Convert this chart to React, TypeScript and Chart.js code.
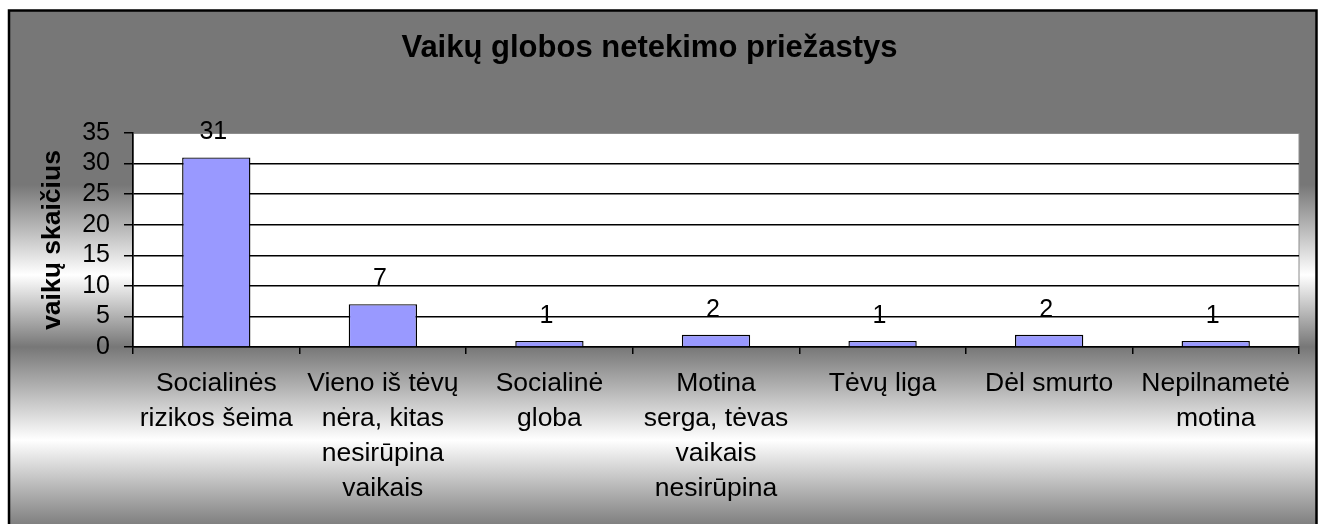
import React, { useEffect, useRef } from "react";
import { Chart, registerables } from "chart.js";

Chart.register(...registerables);

const chartTitle = "Vaikų globos netekimo priežastys";
const yAxisTitle = "vaikų skaičius";
const categories: string[][] = [
  ["Socialinės", "rizikos šeima"],
  ["Vieno iš tėvų", "nėra, kitas", "nesirūpina", "vaikais"],
  ["Socialinė", "globa"],
  ["Motina", "serga, tėvas", "vaikais", "nesirūpina"],
  ["Tėvų liga"],
  ["Dėl smurto"],
  ["Nepilnametė", "motina"],
];
const values: number[] = [31, 7, 1, 2, 1, 2, 1];
const yMin = 0;
const yMax = 35;
const yStep = 5;

const FONT = '"Liberation Sans", Arial, sans-serif';

const backgroundPlugin = {
  id: "bgPlugin",
  beforeDraw(chart: any) {
    const { ctx, width, height, chartArea } = chart;
    ctx.save();
    ctx.fillStyle = "#ffffff";
    ctx.fillRect(0, 0, width, height);
    const g = ctx.createLinearGradient(0, 10, 0, 524);
    const stop = (y: number, c: string) => g.addColorStop((y - 10) / 514, c);
    stop(10, "#777777");
    stop(185, "#777777");
    stop(275, "#ffffff");
    stop(347, "#777777");
    stop(440, "#ffffff");
    stop(524, "#808080");
    ctx.fillStyle = g;
    ctx.fillRect(9, 10, 1308, height);
    ctx.lineWidth = 2.5;
    ctx.strokeStyle = "#000";
    ctx.strokeRect(9, 10.5, 1307.5, height + 40);
    ctx.fillStyle = "#ffffff";
    ctx.fillRect(chartArea.left, chartArea.top, chartArea.right - chartArea.left, chartArea.bottom - chartArea.top);
    ctx.lineWidth = 1;
    ctx.strokeStyle = "#8c8c8c";
    ctx.strokeRect(chartArea.left + 0.5, chartArea.top + 0.5, chartArea.right - chartArea.left - 0.5, chartArea.bottom - chartArea.top);
    ctx.restore();
  },
};

const valueLabelPlugin = {
  id: "valueLabels",
  afterDatasetsDraw(chart: any) {
    const { ctx } = chart;
    const meta = chart.getDatasetMeta(0);
    const ds = chart.data.datasets[0];
    ctx.save();
    ctx.fillStyle = "#000";
    ctx.font = `25px ${FONT}`;
    ctx.textAlign = "center";
    ctx.textBaseline = "alphabetic";
    meta.data.forEach((bar: any, i: number) => {
      ctx.fillText(String(ds.data[i]), bar.x - 3, bar.y - 18);
    });
    ctx.restore();
  },
};

export default function App() {
  const ref = useRef<HTMLCanvasElement>(null);
  useEffect(() => {
    const chart = new Chart(ref.current as HTMLCanvasElement, {
      type: "bar",
      data: {
        labels: categories,
        datasets: [
          {
            data: values,
            backgroundColor: "#9999ff",
            borderColor: "#000000",
            borderWidth: 1.4,
            categoryPercentage: 1,
            barPercentage: 0.41,
          },
        ],
      },
      options: {
        responsive: false,
        animation: false,
        devicePixelRatio: 1,
        layout: { padding: { left: 0, right: 23, top: 0, bottom: 0 } },
        plugins: {
          legend: { display: false },
          tooltip: { enabled: false },
          title: {
            display: true,
            text: chartTitle,
            color: "#000",
            font: { family: FONT, size: 31, weight: "bold", lineHeight: 1.2 },
            padding: { top: 29.4, bottom: 66.4 },
          },
        },
        scales: {
          x: {
            afterFit: (s: any) => {
              s.height = 177;
            },
            grid: {
              drawOnChartArea: false,
              drawTicks: true,
              tickLength: 7,
              color: "#000",
              tickColor: "#000",
              lineWidth: 1.5,
            },
            border: { color: "#000", width: 1.5 },
            ticks: {
              color: "#000",
              font: { family: FONT, size: 26.5, lineHeight: 35 / 26.5 },
              padding: 12.3,
              autoSkip: false,
              maxRotation: 0,
              minRotation: 0,
            },
          },
          y: {
            min: yMin,
            max: yMax,
            afterFit: (s: any) => {
              s.width = 133;
            },
            grid: {
              color: (c: any) => (c.tick && c.tick.value === yMax ? "rgba(0,0,0,0)" : "#000"),
              tickColor: "#000",
              tickLength: 9,
              lineWidth: 1.5,
            },
            border: { color: "#000", width: 1.5 },
            ticks: {
              stepSize: yStep,
              autoSkip: false,
              color: "#000",
              font: { family: FONT, size: 25 },
              padding: 14,
            },
            title: {
              display: true,
              text: yAxisTitle,
              color: "#000",
              font: { family: FONT, size: 26.5, weight: "bold", lineHeight: 1.2 },
              padding: { top: 37, bottom: 0 },
            },
          },
        },
      },
      plugins: [backgroundPlugin, valueLabelPlugin],
    } as any);
    return () => chart.destroy();
  }, []);
  return (
    <>
      <style>{"html,body{margin:0;padding:0;overflow:hidden;background:#fff}"}</style>
      <canvas ref={ref} width={1322} height={524} style={{ display: "block", width: "1322px", height: "524px" }} />
    </>
  );
}
